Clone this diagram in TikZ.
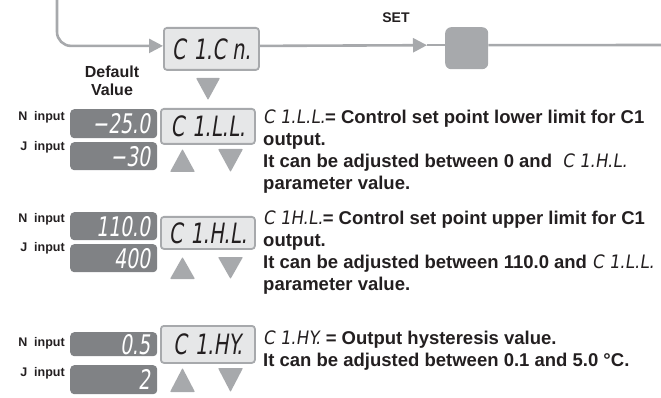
\documentclass[tikz,border=0pt]{standalone}
\usepackage{fontspec}
\setmainfont{Liberation Sans}
\newfontfamily\segfont{DejaVu Sans}[FakeSlant=0.15,FakeStretch=0.7]
\newfontfamily\segfontw{DejaVu Sans}[FakeSlant=0.15,FakeStretch=0.9]
\usetikzlibrary{arrows.meta}
\definecolor{linegray}{HTML}{A7A9AC}
\definecolor{lcdfill}{HTML}{E6E7E8}
\definecolor{darkfill}{HTML}{808285}
\definecolor{txt}{HTML}{231F20}
\newcommand{\segt}[1]{{\segfontw\mdseries #1}}
\newcommand{\cgap}{\hspace{8pt}}
\begin{document}
\begin{tikzpicture}[x=1pt,y=-1pt,
  lcd/.style={draw=linegray, line width=1.8pt, fill=lcdfill, rounded corners=3pt,
    anchor=north west, inner xsep=5pt, inner ysep=0pt, minimum width=94pt,
    font=\segfont\fontsize{28}{28}\selectfont, text=txt},
  darkbox/.style={fill=darkfill, rounded corners=4pt, anchor=north west,
    inner xsep=7pt, inner ysep=0pt, align=right, text width=73pt,
    font=\segfont\fontsize{27}{27}\selectfont, text=white},
  btn/.style={fill=linegray, rounded corners=0.8pt},
  flow/.style={draw=linegray, line width=2.6pt},
  tip/.style={-{Triangle[length=14pt,width=14pt]}},
  lbl/.style={font=\bfseries\fontsize{12.5}{14}\selectfont, text=txt, anchor=east, inner sep=0pt},
  desc/.style={font=\bfseries\fontsize{18.5}{22}\selectfont, text=txt, anchor=north west,
    align=left, inner sep=0pt},
]
\useasboundingbox (0,0) rectangle (661,398);

% ---- top flow ----
\node[lcd, minimum width=95pt, minimum height=42pt] (c1cn) at (163,27) {C\cgap 1.C n.};
\node[fill=linegray, rounded corners=6pt, minimum width=43pt, minimum height=42pt,
  anchor=north west, inner sep=0pt] (setkey) at (445,27) {};
\node[font=\bfseries\fontsize{14}{16}\selectfont, text=txt] (setlbl) at (396,18) {SET};
\coordinate (topin) at (57,0);
\coordinate (rightout) at (661,45);
\coordinate (setarr) at ([yshift=3pt, xshift=-18pt]setkey.west);
\draw[flow, tip, rounded corners=14pt] (topin) |- ([yshift=3pt]c1cn.west);
\draw[flow, tip] ([yshift=3pt]c1cn.east) -- (setarr);
\draw[flow] (setarr) -- ([yshift=3pt]setkey.west);
\draw[flow] ([yshift=3pt]setkey.east) -- (rightout);
\fill[btn] (196,78) -- (220,78) -- (208,100) -- cycle;
\node[font=\bfseries\fontsize{16}{18}\selectfont, align=center, text=txt] (defval) at (112,81) {Default\\Value};

% ---- row 1 ----
\node[lbl] (n1lbl) at (65,117) {N~~input};
\node[lbl] (j1lbl) at (65,147) {J~~input};
\node[darkbox, minimum height=29pt] (n1) at (70,109) {−25.0};
\node[darkbox, minimum height=28pt] (j1) at (70,142) {−30};
\node[lcd, minimum height=35pt] (l1) at (160,108) {C\cgap 1.L.L.};
\fill[btn] (170,172) -- (195,172) -- (182.5,149) -- cycle;
\fill[btn] (218,149) -- (243,149) -- (230.5,172) -- cycle;
\node[desc] (d1) at (263,110) {\segt{C 1.L.L.}= Control set point lower limit for C1\\
output.\\
It can be adjusted between 0 and \ \segt{C 1.H.L.}\\
parameter value.};

% ---- row 2 ----
\node[lbl] (n2lbl) at (65,219) {N~~input};
\node[lbl] (j2lbl) at (65,248) {J~~input};
\node[darkbox, minimum height=28pt] (n2) at (70,212) {110.0};
\node[darkbox, minimum height=28pt] (j2) at (70,244) {400};
\node[lcd, minimum height=32pt] (l2) at (160,216) {C\cgap 1.H.L.};
\fill[btn] (170,279) -- (195,279) -- (182.5,257) -- cycle;
\fill[btn] (218,257) -- (243,257) -- (230.5,279) -- cycle;
\node[desc] (d2) at (263,211) {\segt{C 1H.L.}= Control set point upper limit for C1\\
output.\\
It can be adjusted between 110.0 and \segt{C 1.L.L.}\\
parameter value.};

% ---- row 3 ----
\node[lbl] (n3lbl) at (65,343) {N~~input};
\node[lbl] (j3lbl) at (65,373) {J~~input};
\node[darkbox, minimum height=24pt] (n3) at (70,332) {0.5};
\node[darkbox, minimum height=29pt] (j3) at (70,365) {2};
\node[lcd, minimum height=37pt] (l3) at (160,325) {C\cgap 1.HY.};
\fill[btn] (170,392) -- (195,392) -- (182.5,368) -- cycle;
\fill[btn] (218,368) -- (243,368) -- (230.5,392) -- cycle;
\node[desc] (d3) at (263,331) {\segt{C 1.HY.} = Output hysteresis value.\\
It can be adjusted between 0.1 and 5.0 °C.};
\end{tikzpicture}
\end{document}
